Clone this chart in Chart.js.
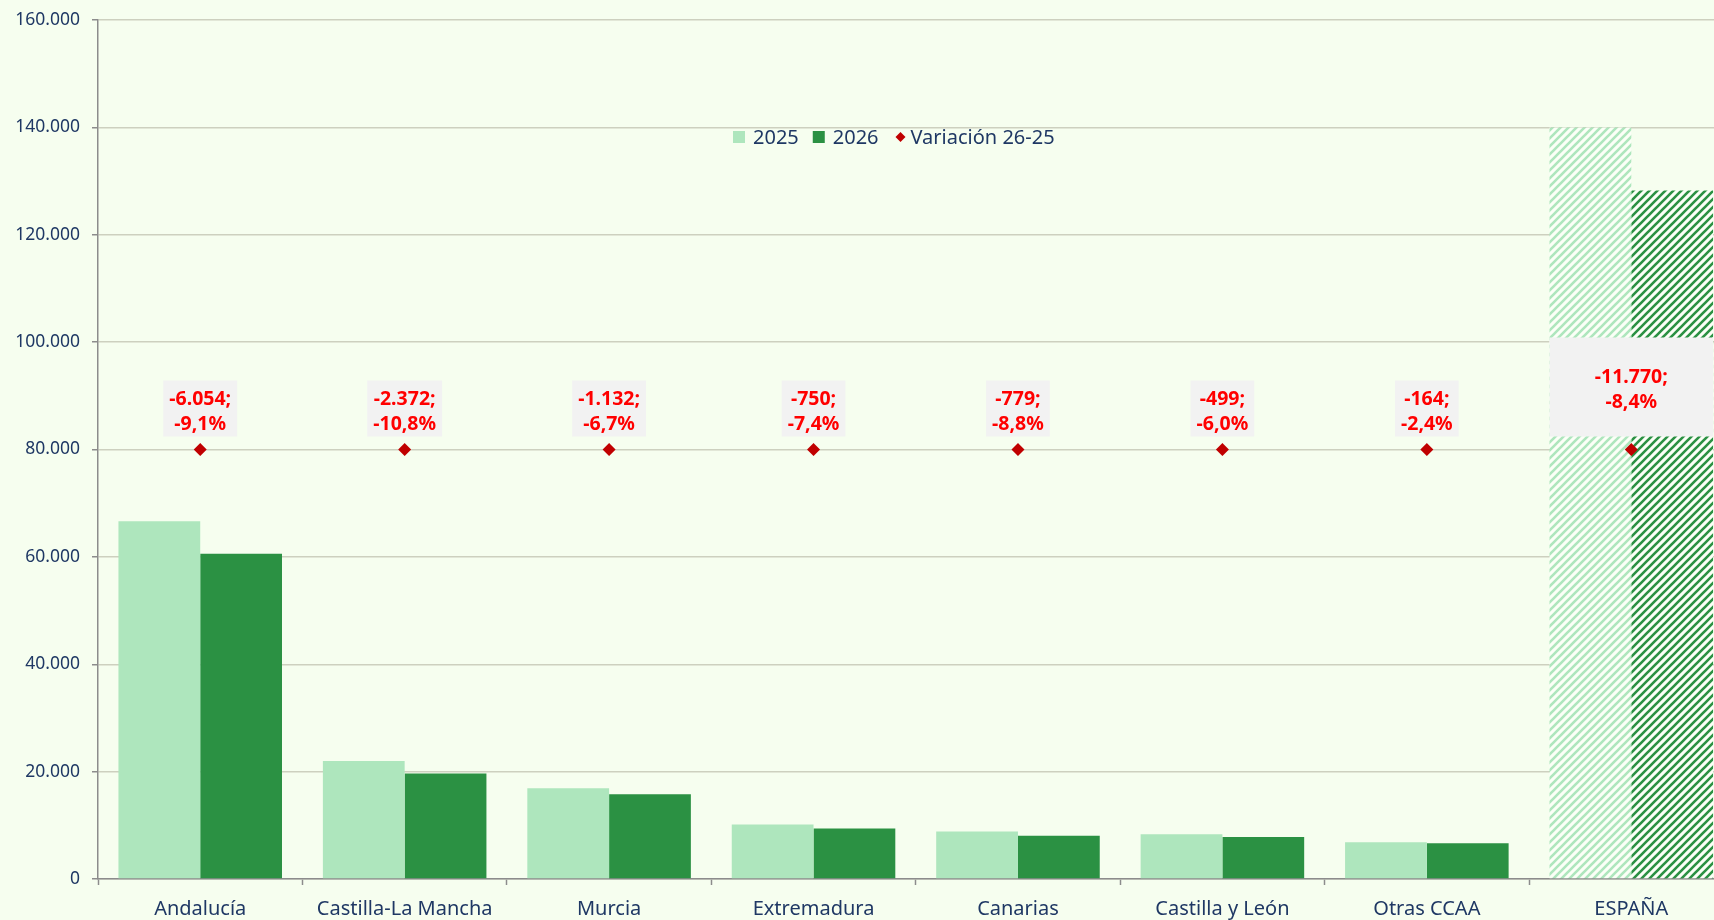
<!DOCTYPE html>
<html lang="es">
<head>
<meta charset="utf-8">
<title>2025 - 2026 por CCAA</title>
<script src="https://cdn.jsdelivr.net/npm/chart.js@4.4.1/dist/chart.umd.min.js"></script>
<style>
  html, body { margin: 0; padding: 0; overflow: hidden; background: #f6feef; }
  #chart { display: block; }
</style>
</head>
<body>
<canvas id="chart" width="1740" height="920"></canvas>
<script>
// Datos
const categories = ['Andalucía', 'Castilla-La Mancha', 'Murcia', 'Extremadura', 'Canarias', 'Castilla y León', 'Otras CCAA', 'ESPAÑA'];
const values2025 = [66650, 22000, 16900, 10135, 8852, 8317, 6833, 140000];
const values2026 = [60596, 19628, 15768, 9385, 8073, 7818, 6669, 128230];
const variationAbs = [-6054, -2372, -1132, -750, -779, -499, -164, -11770];
const variationPct = [-9.1, -10.8, -6.7, -7.4, -8.8, -6.0, -2.4, -8.4];
// altura fija a la que se colocan los rombos de variación
const variationPos = [80000, 80000, 80000, 80000, 80000, 80000, 80000, 80000];
const yTicks = [0, 20000, 40000, 60000, 80000, 100000, 120000, 140000, 160000];

const navy = '#1f3864';
const light = '#aee6bd';
const dark = '#2b9143';
const diamond = '#c00000';

function fmt(n) {
  const s = Math.abs(Math.round(n)).toString().replace(/\B(?=(\d{3})+(?!\d))/g, '.');
  return (n < 0 ? '-' : '') + s;
}
function fmtPct(n) {
  return (n < 0 ? '-' : '') + Math.abs(n).toFixed(1).replace('.', ',') + '%';
}

const ctx = document.getElementById('chart').getContext('2d');

// rayado diagonal para el total
function hatch(color) {
  const c = document.createElement('canvas');
  c.width = 8; c.height = 8;
  const g = c.getContext('2d');
  g.fillStyle = '#fbfff7';
  g.fillRect(0, 0, 8, 8);
  g.strokeStyle = color;
  g.lineWidth = 2.6;
  g.beginPath();
  g.moveTo(0, 8); g.lineTo(8, 0);
  g.moveTo(-2, 2); g.lineTo(2, -2);
  g.moveTo(6, 10); g.lineTo(10, 6);
  g.stroke();
  return ctx.createPattern(c, 'repeat');
}
const last = categories.length - 1;
const fill2025 = categories.map((c, i) => i === last ? hatch(light) : light);
const fill2026 = categories.map((c, i) => i === last ? hatch(dark) : dark);

// etiquetas de variación con fondo gris
const variationLabels = {
  id: 'variationLabels',
  afterDatasetsDraw(chart) {
    const c = chart.ctx;
    const pts = chart.getDatasetMeta(2).data;
    const b25 = chart.getDatasetMeta(0).data;
    const b26 = chart.getDatasetMeta(1).data;
    c.save();
    c.font = 'bold 19.5px "Noto Sans"';
    c.textAlign = 'center';
    c.textBaseline = 'alphabetic';
    pts.forEach((p, i) => {
      const l1 = fmt(variationAbs[i]) + ';';
      const l2 = fmtPct(variationPct[i]);
      const bottom = p.y - 13;
      let left, right, top;
      if (i === last) {
        left = b25[i].x - b25[i].width / 2;
        right = b26[i].x + b26[i].width / 2;
        top = p.y - 112;
      } else {
        const w = Math.max(c.measureText(l1).width, c.measureText(l2).width) + 12;
        left = p.x - w / 2;
        right = p.x + w / 2;
        top = p.y - 69;
      }
      c.fillStyle = '#f2f2f2';
      c.fillRect(left, top, right - left, bottom - top);
      const mid = (top + bottom) / 2;
      c.fillStyle = '#ff0000';
      c.fillText(l1, p.x, mid - 4);
      c.fillText(l2, p.x, mid + 21);
    });
    c.restore();
  }
};

// leyenda dentro del área de trazado
const innerLegend = {
  id: 'innerLegend',
  afterDraw(chart) {
    const c = chart.ctx;
    const y = 137;
    let x = 733;
    c.save();
    c.font = '20px "Noto Sans"';
    c.textBaseline = 'middle';
    c.textAlign = 'left';
    [['2025', light], ['2026', dark]].forEach(([t, col]) => {
      c.fillStyle = col;
      c.fillRect(x, y - 6, 12, 12);
      x += 20;
      c.fillStyle = navy;
      c.fillText(t, x, y + 1);
      x += c.measureText(t).width + 14;
    });
    x += 3;
    c.fillStyle = diamond;
    c.beginPath();
    c.moveTo(x + 5, y - 5); c.lineTo(x + 10, y); c.lineTo(x + 5, y + 5); c.lineTo(x, y);
    c.closePath();
    c.fill();
    x += 15;
    c.fillStyle = navy;
    c.fillText('Variación 26-25', x, y + 1);
    c.restore();
  }
};

new Chart(ctx, {
  type: 'bar',
  data: {
    labels: categories,
    datasets: [
      {
        label: '2025',
        data: values2025,
        backgroundColor: fill2025,
        borderWidth: 0,
        categoryPercentage: 0.8,
        barPercentage: 1.0,
        order: 2
      },
      {
        label: '2026',
        data: values2026,
        backgroundColor: fill2026,
        borderWidth: 0,
        categoryPercentage: 0.8,
        barPercentage: 1.0,
        order: 2
      },
      {
        type: 'line',
        label: 'Variación 26-25',
        data: variationPos,
        showLine: false,
        pointStyle: 'rectRot',
        pointRadius: 6.5,
        pointBackgroundColor: diamond,
        pointBorderWidth: 0,
        order: 1
      }
    ]
  },
  options: {
    responsive: false,
    animation: false,
    layout: { padding: { top: 20, right: 6, left: 0, bottom: 0 } },
    plugins: {
      legend: { display: false },
      tooltip: { enabled: false }
    },
    scales: {
      x: {
        offset: true,
        border: { color: '#8c8c8c', width: 1.5 },
        grid: { drawOnChartArea: false, offset: true, tickLength: 6, tickColor: '#8c8c8c', tickWidth: 1.5 },
        ticks: {
          color: navy,
          font: { family: 'Noto Sans', size: 20 },
          padding: 12,
          maxRotation: 0,
          autoSkip: false
        },
        afterFit(scale) { scale.height = 41; scale.paddingLeft = 0; scale.paddingRight = 0; }
      },
      y: {
        min: 0,
        max: 160000,
        border: { color: '#8c8c8c', width: 1.5 },
        grid: { color: '#cdd0bf', lineWidth: 1.5, tickLength: 6, tickColor: '#8c8c8c' },
        afterBuildTicks(scale) { scale.ticks = yTicks.map(v => ({ value: v })); },
        ticks: {
          color: navy,
          font: { family: 'Noto Sans', size: 17.5 },
          padding: 12,
          callback: v => fmt(v)
        },
        afterFit(scale) { scale.width = 98; scale.paddingTop = 0; scale.paddingBottom = 0; }
      }
    }
  },
  plugins: [variationLabels, innerLegend]
});
</script>
</body>
</html>
